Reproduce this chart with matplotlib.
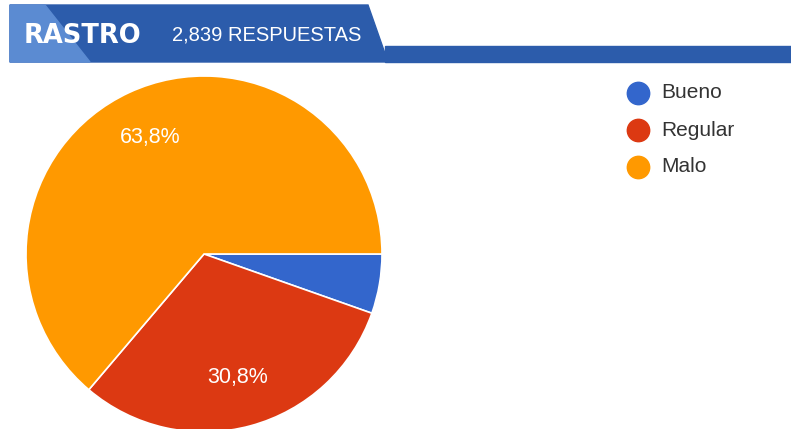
import matplotlib.pyplot as plt
from matplotlib.patches import Polygon, Rectangle

# datos de la encuesta
categorias = ["Bueno", "Regular", "Malo"]
porcentajes = [5.4, 30.8, 63.8]
colores = ["#3366CC", "#DC3912", "#FF9900"]
titulo = "RASTRO"
subtitulo = "2,839 RESPUESTAS"

W, H = 791, 429
fig = plt.figure(figsize=(W / 100, H / 100), dpi=100)
ax = fig.add_axes([0, 0, 1, 1])

# pastel, empieza a las 3 y gira en sentido horario
wedges, textos, autotextos = ax.pie(
    porcentajes, colors=colores, startangle=0, counterclock=False,
    center=(204, H - 254), radius=178,
    autopct=lambda p: ("%.1f%%" % p).replace(".", ",") if p > 10 else "",
    pctdistance=0.72,
    wedgeprops=dict(edgecolor="white", linewidth=1.2),
    textprops=dict(color="white", fontsize=15.5, family="Liberation Sans"),
)
ax.set_xlim(0, W)
ax.set_ylim(0, H)
ax.axis("off")

# cabecera
ax.add_patch(Polygon([(10, H - 5), (368, H - 5), (388, H - 62), (10, H - 62)],
                     closed=True, color="#2C5CAB", zorder=5))
ax.add_patch(Polygon([(10, H - 5), (45, H - 5), (90, H - 62), (10, H - 62)],
                     closed=True, color="#5B8BD2", zorder=6))
ax.add_patch(Rectangle((385, H - 62), W - 385, 16, color="#2C5CAB", zorder=5))
ax.text(24, H - 36, titulo, color="white", fontsize=18.5, fontweight="heavy",
        family="DejaVu Sans", va="center", zorder=7)
ax.text(172, H - 35, subtitulo, color="white", fontsize=14.5,
        family="Liberation Sans", va="center", zorder=7)

# leyenda
for i, (cat, col) in enumerate(zip(categorias, colores)):
    y = H - 93 - i * 37
    ax.scatter([638], [y], s=260, color=col, zorder=5)
    ax.text(661, y, cat, fontsize=15, color="#333333", va="center",
            family="Liberation Sans")

fig.savefig("out.png", dpi=100)
